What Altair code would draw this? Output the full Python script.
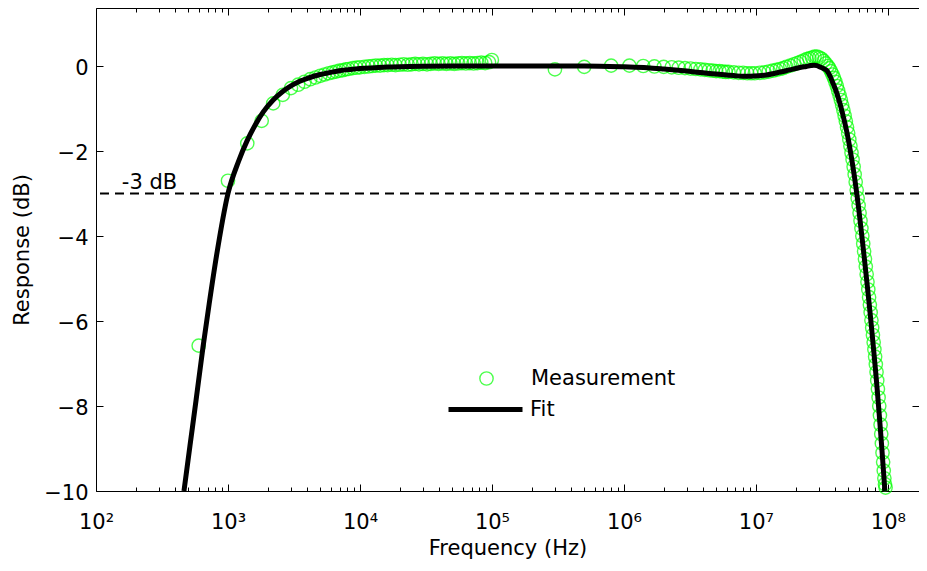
import altair as alt
import pandas as pd

FONT = "DejaVu Sans"

# ---- measurement (green circles) ----
meas_freq = [
    600, 1000, 1400, 1800, 2200, 2600, 3000, 3400, 3800, 4200, 4600, 5000, 5400, 5800,
    6200, 6600, 7000, 7400, 7800, 8200, 8800, 9400, 10000, 10800, 11600, 12400, 13200,
    14200, 15200, 16200, 17400, 18600, 20000, 21400, 23000, 24600, 26200, 28000, 30000,
    32200, 34400, 36800, 39400, 42200, 45200, 48400, 51800, 55400, 59200, 63400, 67800,
    72600, 77600, 83000, 88800, 95000, 99800,
    3e5, 5e5, 8e5, 1.1e6, 1.4e6, 1.7e6,
    2.0e6, 2.3e6, 2.6e6, 2.9e6, 3.2e6, 3.5e6, 3.8e6, 4.1e6, 4.4e6, 4.7e6, 5.0e6, 5.3e6,
    5.6e6, 5.9e6, 6.2e6, 6.8e6, 7.4e6, 8.0e6, 8.6e6, 9.2e6, 9.8e6, 10.7e6, 11.6e6, 12.5e6,
    13.4e6, 14.3e6, 15.2e6, 16.1e6, 17.0e6, 18.2e6, 19.4e6, 20.6e6, 21.8e6, 23.0e6, 24.2e6,
    25.4e6, 26.6e6, 27.8e6, 29.0e6, 30.2e6, 31.4e6, 32.6e6, 33.8e6, 35.0e6,
    36e6, 37e6, 38e6, 39e6, 40e6, 41e6, 42e6, 43e6, 44e6, 45e6, 46e6, 47e6, 48e6, 49e6,
    50e6, 51e6, 52e6, 53e6, 54e6, 55e6, 56e6, 57e6, 58e6, 59e6, 60e6, 61e6, 62e6, 63e6,
    64e6, 65e6, 66e6, 67e6, 68e6, 69e6, 70e6, 71e6, 72e6, 73e6, 74e6, 75e6, 76e6, 77e6,
    78e6, 79e6, 80e6, 81e6, 82e6, 83e6, 84e6, 85e6, 86e6, 87e6, 88e6, 89e6, 90e6, 91e6,
    92e6, 93e6, 94e6, 95e6, 96e6,
]
meas_db = [
    -6.58, -2.7, -1.82, -1.29, -0.88, -0.68, -0.52, -0.44, -0.37, -0.31, -0.27, -0.23, -0.2, -0.17,
    -0.15, -0.13, -0.11, -0.1, -0.08, -0.07, -0.05, -0.04, -0.03, -0.02, -0.01, 0.0, 0.01,
    0.01, 0.02, 0.02, 0.03, 0.02, 0.03, 0.04, 0.03, 0.04, 0.05, 0.04, 0.05,
    0.04, 0.05, 0.06, 0.05, 0.06, 0.05, 0.06, 0.05, 0.06, 0.07, 0.06, 0.07,
    0.06, 0.07, 0.08, 0.07, 0.09, 0.14,
    -0.08, -0.02, 0.01, 0.01, 0.0, -0.01,
    -0.02, -0.03, -0.04, -0.05, -0.06, -0.07, -0.08, -0.09, -0.10, -0.11, -0.12, -0.12,
    -0.13, -0.14, -0.14, -0.15, -0.16, -0.16, -0.17, -0.17, -0.17, -0.16, -0.15, -0.13,
    -0.11, -0.09, -0.07, -0.05, -0.02, 0.01, 0.04, 0.07, 0.10, 0.13, 0.16,
    0.18, 0.20, 0.22, 0.22, 0.20, 0.17, 0.12, 0.06, 0.0,
    -0.05, -0.12, -0.2, -0.28, -0.37, -0.47, -0.58, -0.69, -0.8, -0.92, -1.04, -1.17, -1.3, -1.44,
    -1.58, -1.73, -1.88, -2.04, -2.2, -2.37, -2.55, -2.73, -2.92, -3.11, -3.28, -3.46, -3.64, -3.82,
    -4.0, -4.18, -4.36, -4.54, -4.72, -4.9, -5.08, -5.26, -5.44, -5.62, -5.8, -5.98, -6.16, -6.33,
    -6.5, -6.67, -6.84, -7.02, -7.2, -7.4, -7.6, -7.8, -8.0, -8.22, -8.44, -8.66, -8.88, -9.1,
    -9.32, -9.52, -9.7, -9.84, -9.92,
]

# ---- fit (black line) ----
fit_freq = [
    464, 515, 573, 647, 720, 820, 1000, 1200, 1400, 1600, 1850, 2200, 2600, 3000, 3500,
    4000, 5000, 6000, 7000, 8500, 1e4, 1.3e4, 1.6e4, 2e4, 3e4, 5e4, 1e5, 2e5, 5e5, 1e6,
    1.5e6, 2e6, 3e6, 4e6, 5e6, 6e6, 7e6, 8e6, 9e6, 1.05e7, 1.2e7, 1.4e7, 1.6e7, 1.8e7,
    2e7, 2.2e7, 2.4e7, 2.6e7, 2.75e7, 2.9e7, 3.05e7, 3.25e7, 3.45e7, 3.65e7, 3.83e7,
    4.05e7, 4.33e7, 4.6e7, 4.89e7, 5.1e7, 5.33e7, 5.58e7, 5.82e7, 6.03e7, 6.24e7, 6.46e7,
    6.69e7, 6.93e7, 7.18e7, 7.37e7, 7.56e7, 7.83e7, 8.11e7, 8.33e7, 8.55e7, 8.78e7,
    9.02e7, 9.25e7, 9.49e7,
]
fit_db = [
    -10, -8.94, -7.86, -6.61, -5.6, -4.45, -3.0, -2.25, -1.75, -1.4, -1.08, -0.8, -0.6, -0.47, -0.36,
    -0.29, -0.2, -0.15, -0.11, -0.08, -0.06, -0.04, -0.025, -0.015, -0.005, 0, 0, 0, 0, -0.02,
    -0.04, -0.07, -0.12, -0.16, -0.19, -0.21, -0.23, -0.24, -0.24, -0.23, -0.21, -0.17, -0.13, -0.09,
    -0.06, -0.03, -0.01, 0.01, 0.02, 0.01, -0.02, -0.06, -0.11, -0.24, -0.4,
    -0.59, -0.88, -1.2, -1.56, -1.86, -2.21, -2.61, -3.02, -3.4, -3.8, -4.21,
    -4.64, -5.08, -5.54, -5.89, -6.24, -6.74, -7.26, -7.68, -8.11, -8.57,
    -9.05, -9.52, -10.0,
]

# ---- axes / annotation ----
x_major = [1e2, 1e3, 1e4, 1e5, 1e6, 1e7, 1e8]
x_minor = [k * 10 ** n for n in range(2, 8) for k in range(2, 10)]
y_ticks = [-10, -8, -6, -4, -2, 0]
x_domain = [100, 1.72e8]
y_domain = [-10, 1.365]
ref_db = [-3]
ref_label = ["-3 dB"]
ref_label_freq = [157]

meas_df = pd.DataFrame({"freq": meas_freq, "db": meas_db, "series": "Measurement"})
fit_df = pd.DataFrame({"freq": fit_freq, "db": fit_db, "series": "Fit"})
ref_df = pd.DataFrame({"db": ref_db})
lab_df = pd.DataFrame({"freq": ref_label_freq, "db": ref_db, "label": ref_label})

xscale = alt.Scale(type="log", domain=x_domain, nice=False)
yscale = alt.Scale(domain=y_domain, nice=False, zero=False)

SUP = "['\u2070','\u00b9','\u00b2','\u00b3','\u2074','\u2075','\u2076','\u2077','\u2078','\u2079']"
label_expr = "'10' + " + SUP + "[round(log(datum.value)/LN10)]"

TICK = 7
MINOR = 4
common = dict(grid=False, domain=False, tickColor="black", tickWidth=1,
              labelFont=FONT, labelFontSize=21, labelColor="black",
              titleFont=FONT, titleFontSize=21, titleColor="black", titleFontWeight="normal")

x_bottom = alt.Axis(orient="bottom", values=x_major, labelExpr=label_expr, title="Frequency (Hz)",
                    offset=-TICK, tickSize=TICK, labelPadding=20, titlePadding=5,
                    labelFlush=False, labelOverlap=False, **common)
x_top = alt.Axis(orient="top", values=x_major, labels=False, title=None,
                 offset=-TICK, tickSize=TICK, **common)
x_bottom_minor = alt.Axis(orient="bottom", values=x_minor, labels=False, title=None,
                          offset=-MINOR, tickSize=MINOR, **common)
x_top_minor = alt.Axis(orient="top", values=x_minor, labels=False, title=None,
                       offset=-MINOR, tickSize=MINOR, **common)
y_left = alt.Axis(orient="left", values=y_ticks, title="Response (dB)", offset=-TICK, tickSize=TICK,
                  labelPadding=8, titlePadding=11, labelOffset=2, labelFlush=False, **common)
y_right = alt.Axis(orient="right", values=y_ticks, labels=False, title=None,
                   offset=-TICK, tickSize=TICK, **common)

rule = alt.Chart(ref_df).mark_rule(strokeDash=[9, 6], strokeWidth=2.2, color="black").encode(
    y=alt.Y("db:Q", scale=yscale, axis=None)
)

points = alt.Chart(meas_df).mark_point(shape="circle", filled=False, size=177, strokeWidth=1.4).encode(
    x=alt.X("freq:Q", scale=xscale, axis=x_bottom),
    y=alt.Y("db:Q", scale=yscale, axis=y_left),
    stroke=alt.Stroke("series:N", scale=alt.Scale(domain=["Measurement"], range=["#00ff00"]),
                      legend=alt.Legend(orient="none", legendX=380, legendY=360, title=None,
                                        symbolType="circle", symbolSize=177, symbolStrokeWidth=1.4,
                                        labelFont=FONT, labelFontSize=21, labelColor="black",
                                        labelOffset=34, padding=0)),
)

line = alt.Chart(fit_df).mark_line(strokeWidth=5, interpolate="monotone", clip=True).encode(
    x=alt.X("freq:Q", scale=xscale, axis=x_top),
    y=alt.Y("db:Q", scale=yscale, axis=y_right),
    color=alt.Color("series:N", scale=alt.Scale(domain=["Fit"], range=["black"]),
                    legend=alt.Legend(orient="none", legendX=350, legendY=362, title=None,
                                      symbolType="stroke", symbolSize=5476, symbolStrokeWidth=5,
                                      labelFont=FONT, labelFontSize=21, labelColor="black",
                                      labelOffset=5, padding=0)),
)

text = alt.Chart(lab_df).mark_text(align="left", baseline="alphabetic", dy=-5, font=FONT,
                                   fontSize=21, color="black").encode(
    x=alt.X("freq:Q", scale=xscale, axis=None),
    y=alt.Y("db:Q", scale=yscale, axis=None),
    text="label:N",
)

minor_b = alt.Chart(fit_df).mark_point(opacity=0).encode(
    x=alt.X("freq:Q", scale=xscale, axis=x_bottom_minor),
    y=alt.Y("db:Q", scale=yscale, axis=None),
)
minor_t = alt.Chart(fit_df).mark_point(opacity=0).encode(
    x=alt.X("freq:Q", scale=xscale, axis=x_top_minor),
    y=alt.Y("db:Q", scale=yscale, axis=None),
)

chart = (
    alt.layer(rule, points, line, text, minor_b, minor_t)
    .resolve_axis(x="independent", y="independent")
    .properties(width=823, height=483, autosize=alt.AutoSizeParams(type="none"),
                padding={"left": 88, "top": 0, "right": 0, "bottom": 72})
    .configure_view(stroke="black", strokeWidth=1)
)

chart.save("out.html", embed_options={"renderer": "svg", "actions": False})
